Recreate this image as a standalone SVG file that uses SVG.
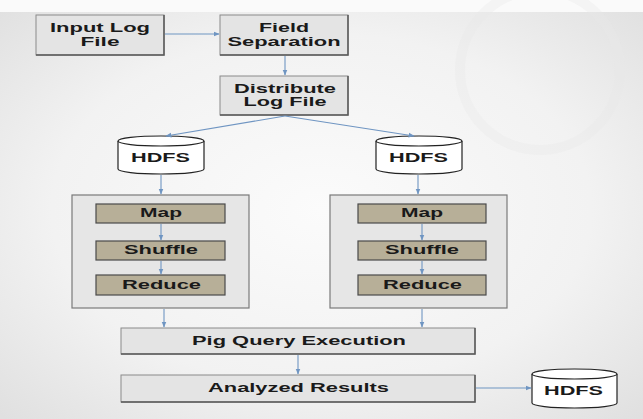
<svg xmlns="http://www.w3.org/2000/svg" width="643" height="419" viewBox="0 0 643 419">
<defs>
  <radialGradient id="bg" cx="0.5" cy="0.5" r="0.7">
    <stop offset="0" stop-color="#fbfbfb"/>
    <stop offset="0.6" stop-color="#f2f2f2"/>
    <stop offset="1" stop-color="#e0e0e0"/>
  </radialGradient>
  <marker id="ah" viewBox="0 0 10 10" refX="9" refY="5" markerWidth="6" markerHeight="6" orient="auto" markerUnits="userSpaceOnUse">
    <path d="M0,1 L10,5 L0,9 z" fill="#6f95c2"/>
  </marker>
  <style>
    .box{fill:#e4e4e4;stroke:#8a8a8a;stroke-width:1}
    .shadow{fill:none;stroke:#5a5a5a;stroke-width:1.5}
    .cont{fill:#e6e6e6;stroke:#7a7a7a;stroke-width:1.2}
    .step{fill:#b7af98;stroke:#4a4a4a;stroke-width:1.2}
    .cyl{fill:#ffffff;stroke:#222;stroke-width:1.2}
    .t{font-family:"Liberation Sans",Arial,sans-serif;font-weight:bold;font-size:13px;fill:#1a1a1a;text-anchor:middle}
    .t2{font-size:12px}
    .c{fill:none;stroke:#6f95c2;stroke-width:1.1;marker-end:url(#ah)}
  </style>
</defs>
<rect x="0" y="0" width="643" height="419" fill="url(#bg)"/>
<rect x="0" y="0" width="643" height="12" fill="#fafafa"/>
<circle cx="540" cy="70" r="80" fill="none" stroke="#e9e9e9" stroke-width="10" opacity="0.35"/>

<g id="input-log-file">
  <rect class="box" x="36" y="15" width="128" height="40"/>
  <path class="shadow" d="M164,15 V55 H36"/>
  <text class="t t2" x="100" y="32" textLength="100" lengthAdjust="spacingAndGlyphs">Input Log</text>
  <text class="t t2" x="100" y="45.5" textLength="39" lengthAdjust="spacingAndGlyphs">File</text>
</g>

<g id="field-separation">
  <rect class="box" x="220" y="15" width="128" height="40"/>
  <path class="shadow" d="M348,15 V55 H220"/>
  <text class="t t2" x="284" y="32" textLength="50" lengthAdjust="spacingAndGlyphs">Field</text>
  <text class="t t2" x="284" y="46" textLength="113" lengthAdjust="spacingAndGlyphs">Separation</text>
</g>

<g id="distribute-log-file">
  <rect class="box" x="220" y="76" width="128" height="39"/>
  <path class="shadow" d="M348,76 V115 H220"/>
  <text class="t t2" x="285" y="92.5" textLength="102" lengthAdjust="spacingAndGlyphs">Distribute</text>
  <text class="t t2" x="285" y="106" textLength="83" lengthAdjust="spacingAndGlyphs">Log File</text>
</g>

<g id="hdfs-left">
  <path class="cyl" d="M118,141 V169 A43,5 0 0 0 204,169 V141"/>
  <ellipse class="cyl" cx="161" cy="141" rx="43" ry="5"/>
  <text class="t" x="160.5" y="162" textLength="59" lengthAdjust="spacingAndGlyphs">HDFS</text>
</g>

<g id="hdfs-right">
  <path class="cyl" d="M376,141 V169 A43,5 0 0 0 462,169 V141"/>
  <ellipse class="cyl" cx="419" cy="141" rx="43" ry="5"/>
  <text class="t" x="418.5" y="162" textLength="59" lengthAdjust="spacingAndGlyphs">HDFS</text>
</g>

<g id="mapreduce-left">
  <rect class="cont" x="72" y="195" width="177" height="113"/>
  <g id="map-left">
    <rect class="step" x="96" y="204" width="129" height="19"/>
    <text class="t" x="161" y="217" textLength="42" lengthAdjust="spacingAndGlyphs">Map</text>
  </g>
  <g id="shuffle-left">
    <rect class="step" x="96" y="241" width="129" height="19"/>
    <text class="t" x="161" y="254" textLength="74" lengthAdjust="spacingAndGlyphs">Shuffle</text>
  </g>
  <g id="reduce-left">
    <rect class="step" x="96" y="275" width="129" height="20"/>
    <text class="t" x="161.5" y="289" textLength="79" lengthAdjust="spacingAndGlyphs">Reduce</text>
  </g>
</g>

<g id="mapreduce-right">
  <rect class="cont" x="330" y="195" width="177" height="113"/>
  <g id="map-right">
    <rect class="step" x="358" y="204" width="128" height="19"/>
    <text class="t" x="422" y="217" textLength="42" lengthAdjust="spacingAndGlyphs">Map</text>
  </g>
  <g id="shuffle-right">
    <rect class="step" x="358" y="241" width="128" height="19"/>
    <text class="t" x="422" y="254" textLength="74" lengthAdjust="spacingAndGlyphs">Shuffle</text>
  </g>
  <g id="reduce-right">
    <rect class="step" x="358" y="275" width="128" height="20"/>
    <text class="t" x="422.5" y="289" textLength="79" lengthAdjust="spacingAndGlyphs">Reduce</text>
  </g>
</g>

<g id="pig-query-execution">
  <rect class="box" x="121" y="328" width="354" height="26"/>
  <path class="shadow" d="M475,328 V354 H121"/>
  <text class="t" x="299" y="345" textLength="214" lengthAdjust="spacingAndGlyphs">Pig Query Execution</text>
</g>

<g id="analyzed-results">
  <rect class="box" x="121" y="375" width="354" height="27"/>
  <path class="shadow" d="M475,375 V402 H121"/>
  <text class="t" x="298.5" y="392" textLength="181" lengthAdjust="spacingAndGlyphs">Analyzed Results</text>
</g>

<g id="hdfs-output">
  <path class="cyl" d="M532,374 V403 A42.5,5 0 0 0 617,403 V374"/>
  <ellipse class="cyl" cx="574.5" cy="374" rx="42.5" ry="5"/>
  <text class="t" x="573.5" y="395" textLength="59" lengthAdjust="spacingAndGlyphs">HDFS</text>
</g>

<g id="connectors">
  <line class="c" x1="165" y1="34" x2="219" y2="34"/>
  <line class="c" x1="285" y1="56" x2="285" y2="75"/>
  <line class="c" x1="285" y1="116" x2="166" y2="136"/>
  <line class="c" x1="285" y1="116" x2="414" y2="136"/>
  <line class="c" x1="161" y1="175" x2="161" y2="194"/>
  <line class="c" x1="418" y1="175" x2="418" y2="194"/>
  <line class="c" x1="161" y1="224" x2="161" y2="240"/>
  <line class="c" x1="161" y1="261" x2="161" y2="274"/>
  <line class="c" x1="422" y1="224" x2="422" y2="240"/>
  <line class="c" x1="422" y1="261" x2="422" y2="274"/>
  <line class="c" x1="164" y1="309" x2="164" y2="327"/>
  <line class="c" x1="422" y1="309" x2="422" y2="327"/>
  <line class="c" x1="298" y1="355" x2="298" y2="374"/>
  <line class="c" x1="476" y1="388" x2="531" y2="388"/>
</g>
</svg>
